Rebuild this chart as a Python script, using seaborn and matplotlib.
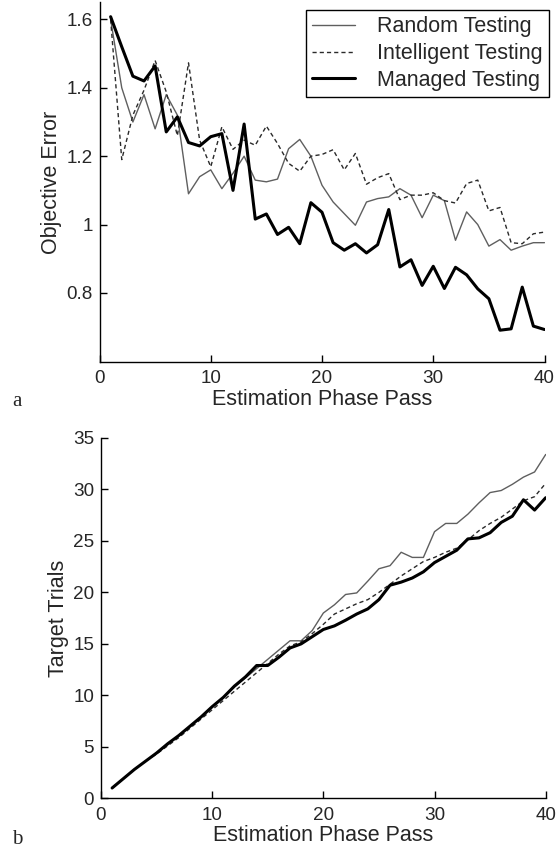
import numpy as np
import pandas as pd
import seaborn as sns
import matplotlib.pyplot as plt

# estimation phase passes
passes = list(range(1, 41))

# (a) objective error
err_random = [1.60, 1.40, 1.30, 1.38, 1.28, 1.38, 1.32, 1.09, 1.14, 1.16,
              1.105, 1.15, 1.20, 1.13, 1.125, 1.133, 1.222, 1.249, 1.20, 1.115,
              1.066, 1.032, 0.998, 1.066, 1.076, 1.081, 1.105, 1.086, 1.02, 1.086,
              1.07, 0.954, 1.037, 1.0, 0.937, 0.956, 0.925, 0.937, 0.947, 0.947]
err_intel = [1.60, 1.19, 1.32, 1.393, 1.48, 1.388, 1.26, 1.473, 1.247, 1.169,
             1.286, 1.22, 1.247, 1.232, 1.288, 1.237, 1.179, 1.156, 1.20, 1.205,
             1.219, 1.16, 1.208, 1.118, 1.137, 1.149, 1.073, 1.086, 1.086, 1.093,
             1.07, 1.063, 1.12, 1.13, 1.04, 1.05, 0.947, 0.944, 0.973, 0.978]
err_managed = [1.608, 1.52, 1.434, 1.42, 1.464, 1.271, 1.315, 1.24, 1.23, 1.257,
               1.266, 1.10, 1.294, 1.016, 1.031, 0.971, 0.992, 0.944, 1.064, 1.036,
               0.947, 0.925, 0.944, 0.917, 0.941, 1.044, 0.876, 0.897, 0.822, 0.878,
               0.813, 0.875, 0.853, 0.812, 0.783, 0.691, 0.695, 0.817, 0.703, 0.693]

# (b) target trials
trials_random = [1.0, 1.9, 2.8, 3.6, 4.4, 5.2, 6.1, 7.0, 7.9, 8.9,
                 9.8, 10.8, 11.7, 12.6, 13.5, 14.4, 15.3, 15.3, 16.3, 18.0,
                 18.8, 19.8, 19.95, 21.1, 22.3, 22.6, 23.9, 23.4, 23.4, 25.9,
                 26.7, 26.7, 27.6, 28.7, 29.7, 29.9, 30.5, 31.2, 31.7, 33.4]
trials_intel = [1.0, 1.9, 2.8, 3.6, 4.3, 5.1, 5.9, 6.8, 7.7, 8.6,
                9.5, 10.4, 11.3, 12.2, 13.1, 14.0, 14.8, 15.2, 16.0, 16.9,
                17.9, 18.4, 18.9, 19.3, 20.0, 20.8, 21.6, 22.3, 23.0, 23.4,
                23.9, 24.3, 25.1, 26.0, 26.7, 27.3, 28.1, 28.9, 29.3, 30.6]
trials_managed = [1.0, 1.9, 2.8, 3.6, 4.4, 5.3, 6.1, 7.0, 7.9, 8.9,
                  9.8, 10.9, 11.8, 12.9, 12.9, 13.7, 14.6, 15.0, 15.7, 16.4,
                  16.75, 17.3, 17.9, 18.4, 19.3, 20.7, 21.0, 21.4, 22.0, 22.9,
                  23.5, 24.1, 25.2, 25.3, 25.8, 26.8, 27.4, 29.0, 28.0, 29.2]

methods = ["Random Testing", "Intelligent Testing", "Managed Testing"]
err_yticks = [0.8, 1.0, 1.2, 1.4, 1.6]
err_yticklabels = ["0.8", "1", "1.2", "1.4", "1.6"]

err_df = pd.DataFrame({"Pass": passes * 3,
                       "Error": err_random + err_intel + err_managed,
                       "Method": np.repeat(methods, len(passes))})
trials_df = pd.DataFrame({"Pass": passes * 3,
                          "Trials": trials_random + trials_intel + trials_managed,
                          "Method": np.repeat(methods, len(passes))})

styles = {
    "Random Testing": dict(color="#5f5f5f", linewidth=1.0, linestyle="-"),
    "Intelligent Testing": dict(color="#2a2a2a", linewidth=1.0, linestyle=(0, (3, 2.2))),
    "Managed Testing": dict(color="black", linewidth=2.2, linestyle="-"),
}

sns.set_style("ticks")
plt.rcParams["font.family"] = ["Liberation Sans", "DejaVu Sans"]
plt.rcParams["xtick.direction"] = "in"
plt.rcParams["ytick.direction"] = "in"

W, H = 558, 851
fig = plt.figure(figsize=(W / 100, H / 100), dpi=100)
ax1 = fig.add_axes([99.5 / W, 1 - 362 / H, 445 / W, 360 / H])
ax2 = fig.add_axes([101 / W, 1 - 798.3 / H, 444.7 / W, 360.3 / H])

fs_tick = 13.6
fs_text = 15.5

for m in methods:
    sns.lineplot(data=err_df[err_df.Method == m], x="Pass", y="Error", ax=ax1,
                 label=m, **styles[m])
    sns.lineplot(data=trials_df[trials_df.Method == m], x="Pass", y="Trials", ax=ax2,
                 legend=False, **styles[m])

ax1.set_xlim(0, 40)
ax1.set_ylim(0.598, 1.651)
ax1.set_xticks([0, 10, 20, 30, 40])
ax1.set_yticks(err_yticks)
ax1.set_yticklabels(err_yticklabels)
ax1.set_xlabel("Estimation Phase Pass", fontsize=fs_text, labelpad=1)
ax1.set_ylabel("Objective Error", fontsize=fs_text, labelpad=3)

ax2.set_xlim(0, 40)
ax2.set_ylim(0, 35)
ax2.set_xticks([0, 10, 20, 30, 40])
ax2.set_yticks([0, 5, 10, 15, 20, 25, 30, 35])
ax2.set_xlabel("Estimation Phase Pass", fontsize=fs_text, labelpad=1)
ax2.set_ylabel("Target Trials", fontsize=fs_text, labelpad=3)

for ax in (ax1, ax2):
    sns.despine(ax=ax)
    ax.tick_params(labelsize=fs_tick, length=5, width=1, color="black")
    ax.tick_params(axis="x", pad=6)
    ax.tick_params(axis="y", pad=5)
    for s in ("left", "bottom"):
        ax.spines[s].set_linewidth(1.0)
        ax.spines[s].set_color("black")

leg = ax1.legend(loc="upper right", bbox_to_anchor=(549 / W, 1 - 10 / H),
                 bbox_transform=fig.transFigure, fontsize=fs_text, frameon=True,
                 fancybox=False, framealpha=1, edgecolor="black",
                 handlelength=2.0, handletextpad=1.0, labelspacing=0.26,
                 borderpad=0.3, borderaxespad=0)
leg.get_frame().set_linewidth(1.0)

fig.text(12 / W, 1 - 402 / H, "a", family="Liberation Serif", fontsize=15, va="center")
fig.text(12 / W, 1 - 840 / H, "b", family="Liberation Serif", fontsize=15, va="center")

fig.savefig("out.png", dpi=100, facecolor="white")
